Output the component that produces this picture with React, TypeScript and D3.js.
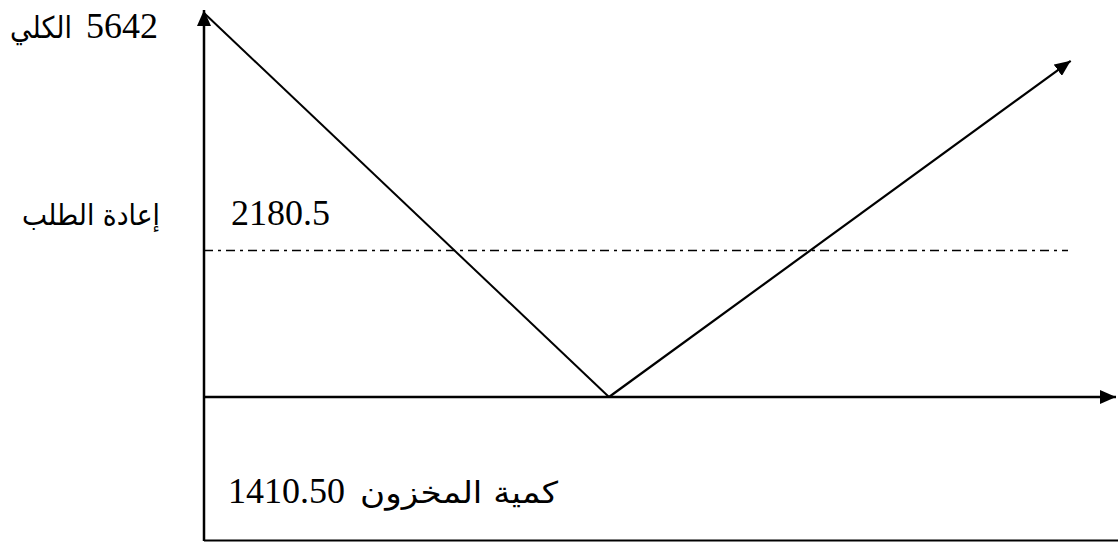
import React from "react";
import * as d3 from "d3";

// Inventory cycle (schematic): time points and stock levels
const cycleTime: number[] = [0, 1, 2.14];
const stockLevel: number[] = [5642, 0, 4940];
const maxStock = 5642;
const reorderLevel = 2180.5;
const orderQty = "1410.50";
const labelMax = "الكلي";
const labelReorder = "إعادة الطلب";
const labelQty = "كمية المخزون";

const W = 1118;
const H = 543;

export default function App() {
  const x = d3.scaleLinear().domain([0, 1]).range([204, 609]);
  const y = d3.scaleLinear().domain([0, maxStock]).range([397, 13]);
  const originX = x(0);
  const originY = y(0);

  const pts: [number, number][] = cycleTime.map((t, i) => [x(t), y(stockLevel[i])]);
  const down = d3.line()([pts[0], pts[1]]) as string;
  const up = d3.line()([pts[1], pts[2]]) as string;
  const ry = y(reorderLevel) + 2;
  const serif = "'Liberation Serif', 'Times New Roman', serif";
  const arabic = "'DejaVu Sans', 'Liberation Serif', serif";

  return (
    <svg
      width={W}
      height={H}
      style={{ position: "absolute", left: 0, top: 0, background: "#fff" }}
    >
      <defs>
        <marker id="ah" viewBox="0 0 16 14" refX="16" refY="7" markerWidth="16" markerHeight="14" markerUnits="userSpaceOnUse" orient="auto">
          <path d="M0,0 L16,7 L0,14 Z" fill="#000" />
        </marker>
      </defs>
      {/* vertical axis */}
      <line x1={originX} y1={541} x2={originX} y2={10} stroke="#000" strokeWidth={2.5} markerEnd="url(#ah)" />
      {/* horizontal axis */}
      <line x1={originX} y1={originY} x2={1116} y2={originY} stroke="#000" strokeWidth={2.5} markerEnd="url(#ah)" />
      {/* bottom border */}
      <line x1={originX} y1={540.5} x2={W} y2={540.5} stroke="#000" strokeWidth={2} />
      {/* reorder level */}
      <line x1={originX} y1={ry} x2={1068} y2={ry} stroke="#000" strokeWidth={1.5} strokeDasharray="9,5,3,5" />
      {/* stock lines */}
      <path d={down} stroke="#000" strokeWidth={2} fill="none" />
      <path d={up} stroke="#000" strokeWidth={2.2} fill="none" markerEnd="url(#ah)" />
      {/* numeric labels */}
      <g fontFamily={serif} fill="#000">
        <text x={158} y={38} fontSize={36} textAnchor="end">{String(maxStock)}</text>
        <text x={231} y={225} fontSize={36}>{String(reorderLevel)}</text>
        <text x={228} y={503} fontSize={36}>{orderQty}</text>
      </g>
      {/* arabic labels */}
      <g fontFamily={arabic} fill="#000">
        <text x={10} y={38} fontSize={30} textLength={62} lengthAdjust="spacingAndGlyphs">{labelMax}</text>
        <text x={22} y={225} fontSize={29} textLength={138} lengthAdjust="spacingAndGlyphs">{labelReorder}</text>
        <text x={360} y={503} fontSize={30} textLength={198} lengthAdjust="spacingAndGlyphs">{labelQty}</text>
      </g>
    </svg>
  );
}
